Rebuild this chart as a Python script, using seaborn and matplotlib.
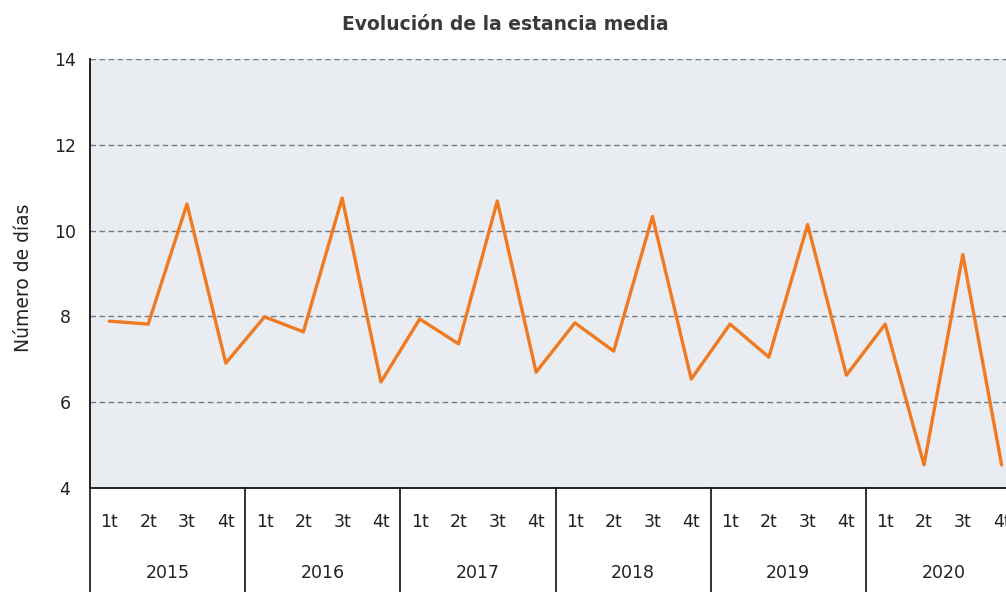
import matplotlib
matplotlib.use("Agg")
import matplotlib.pyplot as plt
import matplotlib.transforms as mtransforms
import seaborn as sns
import pandas as pd

years = ["2015", "2016", "2017", "2018", "2019", "2020"]
quarters = ["1t", "2t", "3t", "4t"]
values = [
    7.89, 7.82, 10.62, 6.91,
    7.99, 7.64, 10.76, 6.47,
    7.94, 7.36, 10.69, 6.70,
    7.85, 7.19, 10.33, 6.54,
    7.82, 7.05, 10.14, 6.63,
    7.82, 4.54, 9.44, 4.54,
]
title = "Evolución de la estancia media"
ylabel = "Número de días"

sns.set_theme(style="white")
plt.rcParams["font.family"] = ["DejaVu Sans"]

labels = [q for y in years for q in quarters]
df = pd.DataFrame({"pos": range(len(values)), "val": values})

W, H = 1006, 592
fig = plt.figure(figsize=(W / 100, H / 100), dpi=100)
left_px, right_px, top_px, bottom_px = 90, 1021, 59, 488
ax = fig.add_axes([left_px / W, (H - bottom_px) / H,
                   (right_px - left_px) / W, (bottom_px - top_px) / H])
ax.set_facecolor("#E9EDF1")

sns.lineplot(data=df, x="pos", y="val", ax=ax, color="#F07A22",
             linewidth=2.4, zorder=3)

ax.set_ylim(4, 14)
ax.set_yticks([4, 6, 8, 10, 12, 14])
ax.set_xlim(-0.5, len(values) - 0.5)
ax.set_xticks(range(len(values)))
ax.set_xticklabels(labels, fontsize=12.5, color="#222222")
ax.tick_params(axis="x", length=0, pad=18)
ax.tick_params(axis="y", length=0, pad=18, labelsize=12.5, labelcolor="#222222")
for t in ax.get_yticklabels():
    t.set_horizontalalignment("center")
ax.set_xlabel("")
ax.set_ylabel(ylabel, fontsize=13.5, color="#222222")
ax.yaxis.set_label_coords(-(left_px - 33) / (right_px - left_px), 0.49)

for yv in [6, 8, 10, 12, 14]:
    ax.axhline(yv, color="#6E7C8A", linestyle=(0, (4, 2.5)), linewidth=1.0, zorder=1)

for s in ["top", "right"]:
    ax.spines[s].set_visible(False)
for s in ["left", "bottom"]:
    ax.spines[s].set_color("#111111")
    ax.spines[s].set_linewidth(1.3)

# year group separators and labels
trans = mtransforms.blended_transform_factory(ax.transData, ax.transAxes)
axes_h = bottom_px - top_px
y_bottom = -(H - bottom_px) / axes_h
for i in range(len(years) + 1):
    xs = i * 4 - 0.5
    ax.plot([xs, xs], [0, y_bottom], transform=trans, color="#222222",
            linewidth=1.3, clip_on=False)
for i, yr in enumerate(years):
    ax.text(i * 4 + 1.5, -(573 - bottom_px) / axes_h, yr, transform=trans,
            ha="center", va="center", fontsize=12.5, color="#222222")

fig.text(505 / W, 1 - 25 / H, title, ha="center", va="center",
         fontsize=13.5, fontweight="bold", color="#3A3A3A")

fig.savefig("out.png", dpi=100)
